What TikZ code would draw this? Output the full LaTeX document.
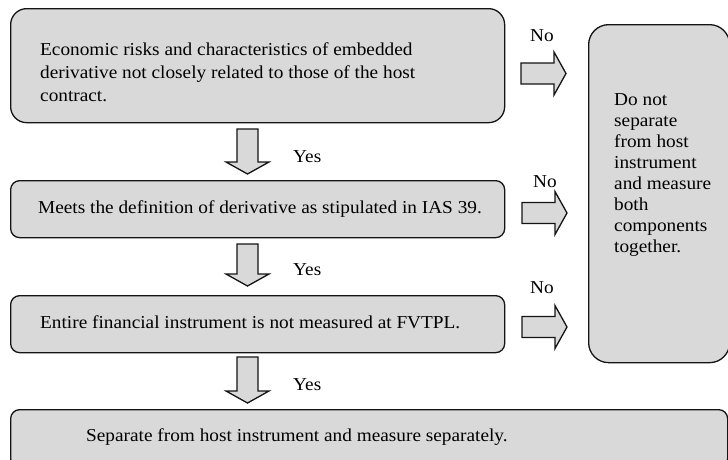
\documentclass[tikz,border=0pt]{standalone}
\usepackage{fontspec}
\setmainfont{Liberation Serif}[FakeStretch=1.06]
\definecolor{boxgray}{RGB}{217,217,217}
\definecolor{inkline}{RGB}{20,20,20}
\tikzset{
  flowbox/.style={draw=inkline, line width=1.3pt, fill=boxgray,
    rounded corners=#1, inner sep=0pt, anchor=north west},
  flowtext/.style={inner sep=0pt, text=black, align=left,
    font=\fontsize{18.2}{#1}\selectfont},
  flowtext/.default=23,
  answer/.style={inner sep=0pt, font=\fontsize{18.2}{21}\selectfont},
  blockarrow/.style={draw=inkline, line width=1.3pt, fill=boxgray, line join=miter},
  % block arrow pointing down: top centre at the pic origin
  downblock/.pic={
    \path[blockarrow] (-10.5,0) -- (10.5,0) -- (10.5,#1) -- (21.5,#1)
      -- (0,#1+12) -- (-21.5,#1) -- (-10.5,#1) -- cycle;
  },
  % block arrow pointing right: left end of the shaft centre at the pic origin
  rightblock/.pic={
    \path[blockarrow] (0,-10.5) -- (33,-10.5) -- (33,-21.5) -- (45,0)
      -- (33,21.5) -- (33,10.5) -- (0,10.5) -- cycle;
  }
}
\begin{document}
\begin{tikzpicture}[x=1pt, y=-1pt]
  \useasboundingbox (0,0) rectangle (728,459);

  % decision boxes
  \node[flowbox=16, minimum width=494, minimum height=114] (b1) at (10,8) {};
  \node[flowbox=9,  minimum width=494, minimum height=57]  (b2) at (10,180) {};
  \node[flowbox=9,  minimum width=494, minimum height=57]  (b3) at (10,295) {};
  \node[flowbox=9,  minimum width=717, minimum height=58]  (b4) at (10,409) {};
  \node[flowbox=20, minimum width=141, minimum height=338] (rb) at (588,24) {};

  % box texts
  \node[flowtext=23, anchor=north west] (t1) at (40,42.6)
    {Economic risks and characteristics of embedded\\
     derivative not closely related to those of the host\\
     contract.};
  \node[flowtext, anchor=base west] (t2) at (38,213)
    {Meets the definition of derivative as stipulated in IAS 39.};
  \node[flowtext, anchor=base west] (t3) at (40,328)
    {Entire financial instrument is not measured at FVTPL.};
  \node[flowtext, anchor=base west] (t4) at (86,441)
    {Separate from host instrument and measure separately.};
  \node[flowtext=21, anchor=north west] (tr) at (614,93)
    {Do not\\ separate\\ from host\\ instrument\\ and measure\\ both\\ components\\ together.};

  % "Yes" arrows downwards
  \pic at (247.5,129) {downblock=33};
  \pic at (247.5,244) {downblock=30};
  \pic at (247.5,357) {downblock=34};
  \node[answer, anchor=base west] (y1) at (293,162) {Yes};
  \node[answer, anchor=base west] (y2) at (293,275) {Yes};
  \node[answer, anchor=base west] (y3) at (293,390) {Yes};

  % "No" arrows to the right
  \pic at (521,73.5) {rightblock};
  \pic at (522,213) {rightblock};
  \pic at (522,327) {rightblock};
  \node[answer, anchor=base] (n1) at (542,41) {No};
  \node[answer, anchor=base] (n2) at (545,187) {No};
  \node[answer, anchor=base] (n3) at (542,293) {No};
\end{tikzpicture}
\end{document}
